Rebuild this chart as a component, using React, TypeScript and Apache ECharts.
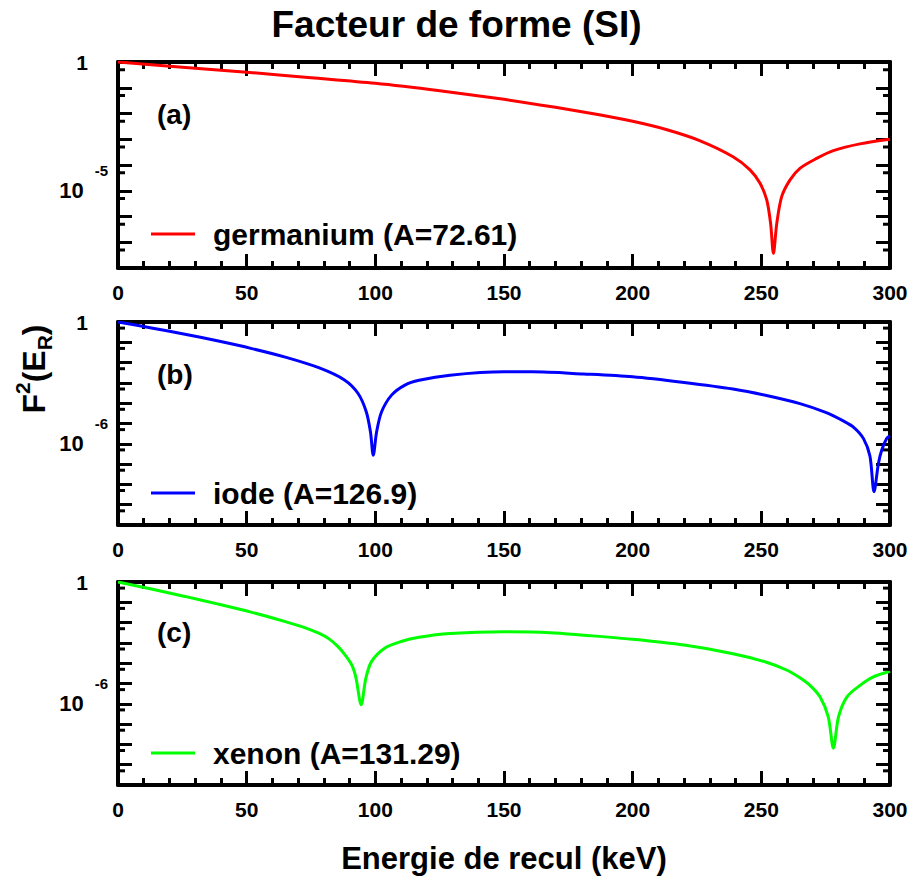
import React, { useEffect, useRef } from 'react';
import * as echarts from 'echarts';

// ---- data ----
const energyGe = [0, 25, 50, 75, 100, 125, 150, 170, 187, 200, 213, 226, 239, 245.6, 249.5, 252.1, 253.6, 254.7, 256.0, 257.9, 261.1, 265, 271.5, 278, 288.3, 300];
const f2Ge = [1, 0.63, 0.4, 0.245, 0.148, 7.6e-2, 3.55e-2, 1.74e-2, 8.9e-3, 5.0e-3, 2.4e-3, 8.9e-4, 2.1e-4, 6.5e-5, 1.95e-5, 4.4e-6, 5.4e-7, 3.7e-8, 5.4e-7, 5.9e-6, 2.6e-5, 7.4e-5, 1.8e-4, 3.6e-4, 6.6e-4, 1.0e-3];

const energyI = [0, 13, 26, 39, 52, 65, 78, 88, 93.3, 96.5, 98.1, 99.2, 100.5, 102.4, 106.3, 111.5, 117, 129, 150, 161, 181, 200, 220, 239, 252, 265, 275, 282, 286, 289.7, 292.2, 293.8, 295.5, 296.8, 298.7, 300];
const f2I = [1, 0.51, 0.25, 0.115, 4.9e-2, 1.86e-2, 5.6e-3, 1.4e-3, 3.0e-4, 3.7e-5, 3.9e-6, 2.75e-7, 3.9e-6, 3.7e-5, 2.5e-4, 7.8e-4, 1.35e-3, 2.4e-3, 3.5e-3, 3.5e-3, 2.75e-3, 2.0e-3, 1.05e-3, 5.0e-4, 2.4e-4, 9.5e-5, 3.5e-5, 1.3e-5, 6.3e-6, 1.8e-6, 2.5e-7, 4.4e-9, 1.07e-7, 4.9e-7, 1.8e-6, 2.5e-6];

const energyXe = [0, 13, 26, 39, 52, 65, 72, 78, 82, 85.5, 88, 90.7, 91.8, 92.6, 94.5, 96.3, 98.5, 103.6, 110, 117, 129, 150, 168, 181, 200, 220, 239, 252, 260, 265, 269, 272.8, 276, 278, 280, 283.3, 288.5, 293.5, 300];
const f2Xe = [1, 0.45, 0.195, 8.1e-2, 3.2e-2, 1.12e-2, 6.0e-3, 3.0e-3, 1.58e-3, 6.6e-4, 2.8e-4, 8.9e-5, 4.0e-5, 1.6e-5, 8.9e-7, 1.8e-5, 1.2e-4, 5.5e-4, 1.17e-3, 1.9e-3, 2.9e-3, 3.5e-3, 3.2e-3, 2.4e-3, 1.5e-3, 7.8e-4, 2.95e-4, 1.12e-4, 4.5e-5, 1.9e-5, 7.9e-6, 2.2e-6, 2.3e-7, 6.5e-9, 2.3e-7, 2.2e-6, 8.3e-6, 2.1e-5, 4.0e-5];

const seriesNames = ['germanium (A=72.61)', 'iode (A=126.9)', 'xenon (A=131.29)'];
const panelTags = ['(a)', '(b)', '(c)'];
const seriesColors = ['#ff0000', '#0000ff', '#00ff00'];
const yMinDecade = [-8, -10, -10]; // log10 of lowest F^2 shown
const yLabelExponent = [-5, -6, -6];
const xTickValues = { min: 0, max: 300, step: 50 };

const titleText = 'Facteur de forme (SI)';
const xAxisTitle = 'Energie de recul (keV)';

const FONT = '"Liberation Sans", Arial, Helvetica, sans-serif';

const energies = [energyGe, energyI, energyXe];
const f2s = [f2Ge, f2I, f2Xe];

const gridBoxes = [
  { top: 62, height: 206 },
  { top: 322, height: 203 },
  { top: 582, height: 203 },
];
const legendTops = [219, 478, 738];
const tagCenters = [116, 376, 634];

function buildOption() {
  const grid: any[] = [];
  const xAxis: any[] = [];
  const yAxis: any[] = [];
  const series: any[] = [];
  const legend: any[] = [];
  const graphic: any[] = [];

  for (let p = 0; p < 3; p++) {
    grid.push({ left: 118, right: 23, top: gridBoxes[p].top, height: gridBoxes[p].height, containLabel: false });
    const axisLine = { show: true, onZero: false, lineStyle: { color: '#000', width: 4 } };
    const xBase = {
      type: 'value', gridIndex: p, min: xTickValues.min, max: xTickValues.max, interval: xTickValues.step,
      axisLine, splitLine: { show: false },
      axisTick: { show: true, inside: true, length: 14, lineStyle: { color: '#000', width: 3 } },
      minorTick: { show: true, splitNumber: 5, length: 7, lineStyle: { color: '#000', width: 3 } },
    };
    xAxis.push({
      ...xBase, position: 'bottom',
      axisLabel: { show: true, margin: 14, fontSize: 21, fontWeight: 'bold', fontFamily: FONT, color: '#000', showMinLabel: true, showMaxLabel: true },
    });
    xAxis.push({ ...xBase, position: 'top', axisLabel: { show: false } });

    const expo = yLabelExponent[p];
    const yBase = {
      type: 'value', gridIndex: p, min: yMinDecade[p], max: 0, interval: 1,
      axisLine, splitLine: { show: false },
      axisTick: { show: true, inside: true, length: 14, lineStyle: { color: '#000', width: 3 } },
    };
    yAxis.push({
      ...yBase, position: 'left',
      axisLabel: {
        show: true, margin: 10, fontFamily: FONT, fontWeight: 'bold', color: '#000',
        formatter: (v: number) => {
          if (Math.abs(v) < 1e-9) return '{one|1}';
          if (Math.abs(v - expo) < 1e-9) return '{b|10}{e|' + expo + '}';
          return '';
        },
        rich: {
          one: { fontSize: 21, fontWeight: 'bold', fontFamily: FONT, color: '#000', padding: [0, 20, 0, 0] },
          b: { fontSize: 22, fontWeight: 'bold', fontFamily: FONT, color: '#000' },
          e: { fontSize: 15, fontWeight: 'bold', fontFamily: FONT, color: '#000', padding: [0, 0, 40, 11] },
        },
      },
    });
    yAxis.push({ ...yBase, position: 'right', axisLabel: { show: false } });

    const xi = p * 2;
    const yi = p * 2;
    series.push({
      name: seriesNames[p], type: 'line', xAxisIndex: xi, yAxisIndex: yi,
      data: energies[p].map((e, i) => [e, Math.log10(f2s[p][i])]),
      showSymbol: false, symbol: 'none', smooth: 0.3,
      lineStyle: { color: seriesColors[p], width: 3 }, itemStyle: { color: seriesColors[p] },
      clip: true, z: 3,
    });
    // minor ticks at 5 x 10^(k-1) on the log scale
    const minor: number[][] = [];
    for (let k = 0; k > yMinDecade[p]; k--) minor.push([0, Math.log10(5) + k - 1]);
    series.push({
      type: 'custom', xAxisIndex: xi, yAxisIndex: yi, data: minor, silent: true, clip: false, z: 4,
      encode: { x: 0, y: 1 },
      renderItem: (params: any, api: any) => {
        const v = api.value(1);
        const l = api.coord([xTickValues.min, v]);
        const r = api.coord([xTickValues.max, v]);
        return {
          type: 'group',
          children: [
            { type: 'line', shape: { x1: l[0], y1: l[1], x2: l[0] + 7, y2: l[1] }, style: { stroke: '#000', lineWidth: 3 } },
            { type: 'line', shape: { x1: r[0] - 7, y1: r[1], x2: r[0], y2: r[1] }, style: { stroke: '#000', lineWidth: 3 } },
          ],
        };
      },
    });
    legend.push({
      data: [seriesNames[p]], left: 151, top: legendTops[p], padding: 0, icon: 'rect',
      itemWidth: 44, itemHeight: 3, selectedMode: false,
      textStyle: { fontSize: 30, fontWeight: 'bold', fontFamily: FONT, color: '#000', padding: [0, 0, 0, 13] },
    });
    graphic.push({
      type: 'text', left: 157, top: tagCenters[p] - 16,
      style: { text: panelTags[p], fontSize: 28, fontWeight: 'bold', fontFamily: FONT, fill: '#000' },
    });
  }

  graphic.push({
    type: 'text', x: 504, y: 858,
    style: { text: xAxisTitle, fontSize: 31, fontWeight: 'bold', fontFamily: FONT, fill: '#000', align: 'center', verticalAlign: 'middle' },
  });
  graphic.push({
    type: 'text', x: 34, y: 369, rotation: Math.PI / 2,
    style: {
      text: '{n|F}{s|2}{n|(E}{r|R}{n|)}', align: 'center', verticalAlign: 'middle',
      rich: {
        n: { fontSize: 32, fontWeight: 'bold', fontFamily: FONT, fill: '#000' },
        s: { fontSize: 21, fontWeight: 'bold', fontFamily: FONT, fill: '#000', padding: [0, 0, 24, 0] },
        r: { fontSize: 21, fontWeight: 'bold', fontFamily: FONT, fill: '#000', padding: [20, 0, 0, 0] },
      },
    },
  });

  return {
    animation: false,
    backgroundColor: '#fff',
    title: { text: titleText, left: 'center', top: 1, textStyle: { fontSize: 37, fontWeight: 'bold', fontFamily: FONT, color: '#000' } },
    grid, xAxis, yAxis, series, legend, graphic,
  };
}

export default function App() {
  const ref = useRef<HTMLDivElement>(null);
  useEffect(() => {
    if (!ref.current) return;
    const chart = echarts.init(ref.current, undefined, { renderer: 'svg' });
    chart.setOption(buildOption() as any);
    return () => chart.dispose();
  }, []);
  return <div ref={ref} style={{ position: 'absolute', left: 0, top: 0, width: 913, height: 879, background: '#fff' }} />;
}
